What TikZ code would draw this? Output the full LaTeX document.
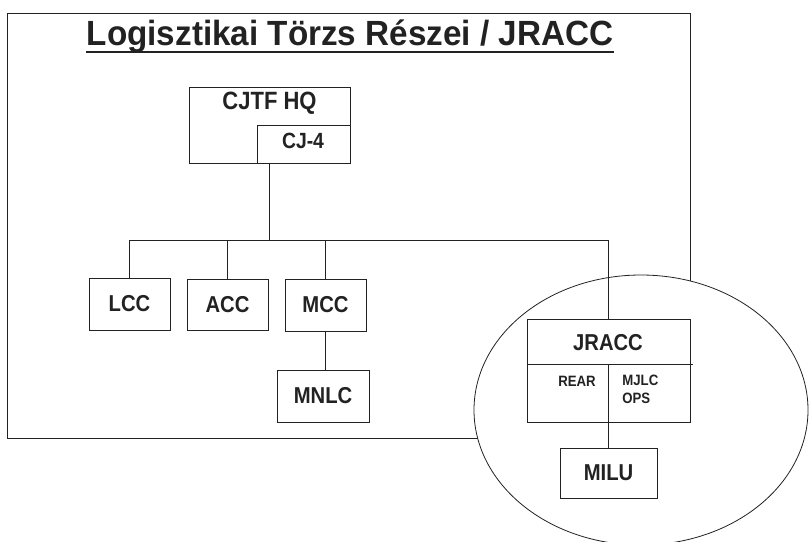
\documentclass[tikz,border=0pt]{standalone}
\usepackage{fontspec}
\setmainfont{Liberation Sans}
\newfontfamily\titlefam[FakeStretch=0.95]{Liberation Sans}
\newfontfamily\boxfam[FakeStretch=0.88]{Liberation Sans}
\definecolor{ink}{HTML}{222222}
\begin{document}
\begin{tikzpicture}[x=1pt,y=-1pt,
  line width=0.8pt, draw=ink,
  box/.style={draw=ink, line width=0.8pt, fill=white, inner sep=0pt},
  bigtxt/.style={font=\boxfam\bfseries\fontsize{23}{25}\selectfont, text=ink, inner sep=0pt},
  smalltxt/.style={font=\boxfam\bfseries\fontsize{15}{18}\selectfont, text=ink, inner sep=0pt, align=left}]
\useasboundingbox (0,0) rectangle (810,541);
% frame
\draw[ink] (7,13) rectangle (690,438);
% circle
\draw[ink, fill=white] (641,410) ellipse [x radius=167, y radius=135];
% title
\node[font=\titlefam\bfseries\fontsize{35}{40}\selectfont, text=ink, inner sep=0pt, anchor=base] (title) at (350,45) {Logisztikai Törzs Részei / JRACC};
\draw[ink, line width=2.2pt] (title.west |- 0,52) -- (title.east |- 0,52);
% HQ
\node[box, minimum width=161pt, minimum height=76pt] (hq) at (269.5,125) {};
\node[bigtxt, font=\boxfam\bfseries\fontsize{25}{27}\selectfont] (hqlab) at (269.5,103) {CJTF HQ};
\node[box, minimum width=93pt, minimum height=38pt] (cj4) at (303.5,144) {};
\node[bigtxt, font=\boxfam\bfseries\fontsize{22}{24}\selectfont] (cj4lab) at (303,141) {CJ-4};
% components
\node[box, bigtxt, draw=ink, minimum width=81pt, minimum height=52pt] (lcc) at (129.5,304) {LCC};
\node[box, bigtxt, draw=ink, minimum width=81pt, minimum height=51pt] (acc) at (227.5,304.5) {ACC};
\node[box, bigtxt, draw=ink, minimum width=81pt, minimum height=52pt] (mcc) at (325.5,305) {MCC};
\node[box, bigtxt, draw=ink, minimum width=92pt, minimum height=52pt] (mnlc) at (323,396) {MNLC};
\node[box, minimum width=163pt, minimum height=103pt] (jracc) at (608.5,370.5) {};
\node[box, bigtxt, draw=ink, minimum width=97pt, minimum height=50pt] (milu) at (608.5,473) {MILU};
\node[bigtxt] (jraccl) at (608,343) {JRACC};
\node[smalltxt] (rear) at (577,381) {REAR};
\node[smalltxt, anchor=north west] (mjlc) at (622,375) {MJLC\\OPS};
% connectors
\coordinate (bus) at (0,240);
\draw[ink] (lcc.north) |- (jracc.north |- bus) -- (jracc.north);
\draw[ink] (acc.north) -- (acc.north |- bus);
\draw[ink] (mcc.north) -- (mcc.north |- bus);
\draw[ink] (hq.south) -- (hq.south |- bus);
\draw[ink] (mcc.south) -- (mcc.south |- mnlc.north);
\coordinate (sep) at (608.5,364);
\draw[ink] (jracc.west |- sep) -- ([xshift=3pt]jracc.east |- sep);
\draw[ink] (sep) -- (milu.north);
\end{tikzpicture}
\end{document}
